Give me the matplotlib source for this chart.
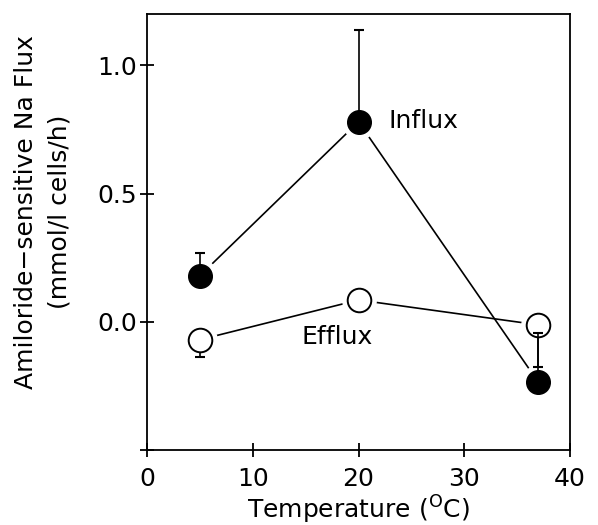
import numpy as np
import matplotlib
matplotlib.use('Agg')
import matplotlib.pyplot as plt

plt.rcParams['font.family'] = ['DejaVu Sans']

# temperatures (deg C)
temps = np.array([5, 20, 37])

# amiloride-sensitive Na flux (mmol/l cells/h)
influx = np.array([0.18, 0.78, -0.235])
influx_err_up = np.array([0.09, 0.36, 0.19])

efflux = np.array([-0.07, 0.085, -0.012])
efflux_err_down = np.array([0.066, 0.0, 0.166])

xticks = [0, 10, 20, 30, 40]
yticks = [-0.5, 0.0, 0.5, 1.0]
ytick_labels = ['', '0.0', '0.5', '1.0']

fig = plt.figure(figsize=(5.98, 5.25), dpi=100)
ax = fig.add_axes([0.246, 0.143, 0.707, 0.830])

# connecting lines
ax.plot(temps, influx, color='black', lw=1.2, zorder=1)
ax.plot(temps, efflux, color='black', lw=1.2, zorder=1)

# white halo so lines stop short of the symbols
ax.plot(temps, influx, 'o', ms=24, color='white', mec='white', zorder=2)
ax.plot(temps, efflux, 'o', ms=24, color='white', mec='white', zorder=2)

# efflux error bars (downward, hidden inside the open circle)
m = efflux_err_down > 0
ax.errorbar(temps[m], efflux[m], yerr=[efflux_err_down[m], np.zeros(m.sum())],
            fmt='none', ecolor='black', elinewidth=1.2, capsize=3.5,
            capthick=1.5, zorder=3)
ax.plot(temps, efflux, 'o', ms=17, mfc='white', mec='black', mew=1.4, zorder=4)

# influx error bars (upward)
ax.errorbar(temps, influx, yerr=[np.zeros(3), influx_err_up], fmt='none',
            ecolor='black', elinewidth=1.2, capsize=3.5, capthick=1.5, zorder=5)
ax.plot(temps, influx, 'o', ms=17, color='black', mec='black', zorder=6)

ax.text(22.8, 0.785, 'Influx', fontsize=18, ha='left', va='center')
ax.text(18.0, -0.06, 'Efflux', fontsize=18, ha='center', va='center')

ax.set_xlim(0, 40)
ax.set_ylim(-0.5, 1.2)
ax.set_xticks(xticks)
ax.set_yticks(yticks)
ax.set_yticklabels(ytick_labels)
ax.tick_params(direction='inout', length=10, width=1.3, labelsize=18, pad=2)
ax.tick_params(axis='x', pad=7)
for sp in ax.spines.values():
    sp.set_linewidth(1.3)

ax.set_xlabel('Temperature ($^{\\mathrm{O}}$C)', fontsize=18, labelpad=2)
fig.text(43 / 598, 1 - 212 / 525,
         'Amiloride\u2212sensitive Na Flux\n(mmol/l cells/h)', fontsize=18,
         rotation=90, ha='center', va='center', linespacing=1.5)

fig.savefig('out.png', dpi=100)
